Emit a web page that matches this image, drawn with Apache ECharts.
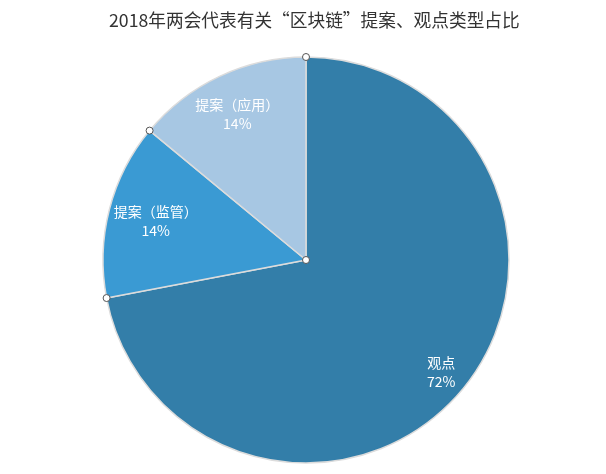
<!DOCTYPE html>
<html>
<head>
<meta charset="utf-8">
<script src="https://cdn.jsdelivr.net/npm/echarts@6/dist/echarts.min.js"></script>
<style>html,body{margin:0;padding:0;background:#fff}#c{width:606px;height:474px}</style>
</head>
<body>
<div id="c"></div>
<script>
var titleText = '2018年两会代表有关“区块链”提案、观点类型占比';
var categories = ['观点', '提案（监管）', '提案（应用）'];
var values = [72, 14, 14];
var colors = ['#337ea9', '#3a9ad3', '#a7c7e3'];

var CX = 306, CY = 260, R = 203;
var labelRadiusRatio = [0.85, 0.75, 0.78];
var total = values.reduce(function (a, b) { return a + b; }, 0);
var cum = 0;
var pieData = [];
var boundary = [[0, 0]];
categories.forEach(function (name, i) {
  var start = cum;
  cum += values[i];
  boundary.push([1, start / total * 100]);
  var mid = (start + values[i] / 2) / total * 2 * Math.PI;
  var dx = Math.sin(mid), dy = -Math.cos(mid);
  var extra = (labelRadiusRatio[i] - 0.5) * R;
  pieData.push({
    name: name,
    value: values[i],
    itemStyle: { color: colors[i] },
    label: { offset: [dx * extra, dy * extra] }
  });
});

var chart = echarts.init(document.getElementById('c'));
chart.setOption({
  animation: false,
  title: {
    text: titleText,
    left: 104,
    top: 6,
    textStyle: { fontFamily: 'Noto Sans CJK SC', fontSize: 17.7, fontWeight: 'normal', color: '#333' }
  },
  polar: { center: [CX, CY], radius: R },
  angleAxis: { type: 'value', min: 0, max: 100, startAngle: 90, clockwise: true, show: false },
  radiusAxis: { type: 'value', min: 0, max: 1, show: false },
  series: [
    {
      type: 'pie',
      center: [CX, CY],
      radius: R,
      startAngle: 90,
      clockwise: true,
      silent: true,
      itemStyle: { borderColor: '#dcdcdc', borderWidth: 1.5 },
      label: {
        show: true,
        position: 'inside',
        formatter: function (p) { return p.name + '\n' + Math.round(p.percent) + '%'; },
        color: '#fff',
        fontFamily: 'Noto Sans CJK SC',
        fontSize: 14,
        lineHeight: 19
      },
      labelLine: { show: false },
      data: pieData
    },
    {
      type: 'scatter',
      coordinateSystem: 'polar',
      silent: true,
      symbol: 'circle',
      symbolSize: 7,
      itemStyle: { color: '#fff', borderColor: '#555', borderWidth: 1, opacity: 1 },
      data: boundary,
      z: 10
    }
  ]
});
</script>
</body>
</html>
